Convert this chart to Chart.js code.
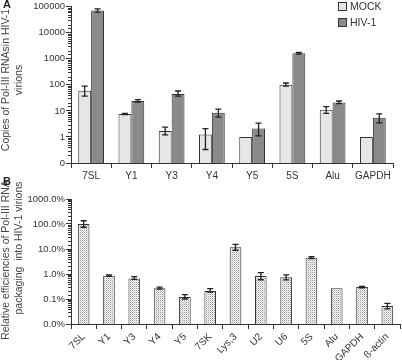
<!DOCTYPE html>
<html>
<head>
<meta charset="utf-8">
<script src="https://cdn.jsdelivr.net/npm/chart.js@4.4.1/dist/chart.umd.min.js"></script>
<style>
  body { margin: 0; background: #fff; width: 402px; height: 360px; overflow: hidden; position: relative;
         font-family: "Liberation Sans", Arial, sans-serif; color: #333; }
  .panel { position: absolute; left: 0; width: 402px; }
  #wrapA { top: 0; height: 183px; }
  #wrapB { top: 180px; height: 180px; }
  .tag { position: absolute; font-weight: bold; font-size: 11px; color: #222; }
  .leg { position: absolute; left: 338px; font-size: 10.5px; line-height: 12px; color: #333; }
  .leg i { display: inline-block; width: 7px; height: 7px; border: 1px solid #333; margin-right: 3px; vertical-align: -1px; }
</style>
</head>
<body>
<div class="panel" id="wrapA"><canvas id="chartA"></canvas></div>
<div class="panel" id="wrapB"><canvas id="chartB"></canvas></div>
<div class="tag" style="left:3px;top:-2px">A</div>
<div class="tag" style="left:3px;top:175px">B</div>
<div class="leg" style="top:0px"><i style="background:#e6e6e6"></i>MOCK</div>
<div class="leg" style="top:16px"><i style="background:#8a8a8a"></i>HIV-1</div>
<script>
// panel A: copies per virion
const categoriesA = ['7SL', 'Y1', 'Y3', 'Y4', 'Y5', '5S', 'Alu', 'GAPDH'];
const mockCopies = [60, 7.6, 1.7, 1.25, 1, 102, 11, 1];
const mockLow = [37, 7.2, 1.2, 0.33, 1, 89, 8.1, 1];
const mockHigh = [89, 8, 2.4, 2.1, 1, 118, 14.5, 1];
const hivCopies = [72000, 24, 45, 8.4, 2.1, 1650, 21, 5.5];
const hivLow = [62000, 22, 37, 5.8, 1.1, 1500, 19, 3.5];
const hivHigh = [83000, 27, 58, 11.8, 3.4, 1750, 24, 7.7];
const ticksA = [0.1, 1, 10, 100, 1000, 10000, 100000];

// panel B: relative packaging efficiency (%)
const categoriesB = ['7SL', 'Y1', 'Y3', 'Y4', 'Y5', '7SK', 'Lys,3', 'U2', 'U6', '5S', 'Alu', 'GAPDH', 'ß-actin'];
const efficiency = [100, 0.86, 0.66, 0.27, 0.12, 0.21, 11.7, 0.83, 0.74, 4.5, 0.27, 0.30, 0.052];
const effLow = [74, 0.8, 0.61, 0.25, 0.10, 0.19, 8.9, 0.59, 0.58, 4.1, 0.27, 0.28, 0.04];
const effHigh = [135, 0.92, 0.78, 0.30, 0.15, 0.26, 15.4, 1.13, 0.93, 4.9, 0.27, 0.32, 0.067];
const ticksB = [0.01, 0.1, 1, 10, 100, 1000];

const axisColor = '#333';
const textColor = '#333';
const tickFont = { family: '"Liberation Sans", Arial, sans-serif', size: 10 };
const yTickFont = { family: '"Liberation Sans", Arial, sans-serif', size: 9.5 };

const isMajor = (list, v) => list.some(t => Math.abs(t - v) / t < 1e-6);

// dotted fill for panel B bars
const dotCanvas = document.createElement('canvas');
dotCanvas.width = 2; dotCanvas.height = 2;
const dctx = dotCanvas.getContext('2d');
dctx.fillStyle = '#fafafa'; dctx.fillRect(0, 0, 2, 2);
dctx.fillStyle = '#9a9a9a'; dctx.fillRect(0, 0, 1, 1);
dctx.fillStyle = '#d0d0d0'; dctx.fillRect(1, 1, 1, 1);
const dots = dctx.createPattern(dotCanvas, 'repeat');

// error bars from low/high arrays on each dataset
const errorBars = {
    id: 'errorBars',
    afterDatasetsDraw(chart) {
        const ctx = chart.ctx;
        const y = chart.scales.y;
        chart.data.datasets.forEach((ds, di) => {
            if (!ds.low) return;
            chart.getDatasetMeta(di).data.forEach((bar, i) => {
                if (ds.low[i] === ds.high[i]) return;
                const top = y.getPixelForValue(ds.high[i]);
                const bot = y.getPixelForValue(ds.low[i]);
                ctx.save();
                ctx.strokeStyle = '#222';
                ctx.lineWidth = 1.3;
                ctx.beginPath();
                ctx.moveTo(bar.x, top); ctx.lineTo(bar.x, bot);
                ctx.moveTo(bar.x - 3, top); ctx.lineTo(bar.x + 3, top);
                ctx.moveTo(bar.x - 3, bot); ctx.lineTo(bar.x + 3, bot);
                ctx.stroke();
                ctx.restore();
            });
        });
    }
};

// short minor ticks on the log axis
const minorTicks = {
    id: 'minorTicks',
    afterDraw(chart, args, opts) {
        const y = chart.scales.y;
        const ctx = chart.ctx;
        ctx.save();
        ctx.strokeStyle = axisColor;
        ctx.lineWidth = 1;
        ctx.beginPath();
        y.ticks.forEach(t => {
            if (isMajor(opts.major, t.value)) return;
            const py = Math.round(y.getPixelForValue(t.value)) + 0.5;
            ctx.moveTo(y.right - 3, py); ctx.lineTo(y.right, py);
        });
        ctx.stroke();
        ctx.restore();
    }
};

// rotated y titles
const yTitle = {
    id: 'yTitle',
    afterDraw(chart, args, opts) {
        const ctx = chart.ctx;
        ctx.save();
        ctx.fillStyle = '#444';
        ctx.textAlign = 'center';
        ctx.textBaseline = 'middle';
        opts.lines.forEach(l => {
            ctx.save();
            ctx.font = (l.size || 10.5) + 'px "Liberation Sans", Arial, sans-serif';
            ctx.translate(l.x, l.y);
            ctx.rotate(-Math.PI / 2);
            ctx.fillText(l.text, 0, 0);
            ctx.restore();
        });
        ctx.restore();
    }
};

const xAxis = (h, rotate) => ({
    afterFit: s => { s.height = h; },
    border: { color: axisColor },
    grid: { drawOnChartArea: false, tickLength: 5, color: axisColor, offset: true },
    ticks: { font: tickFont, color: textColor, padding: 2, autoSkip: false,
             maxRotation: rotate, minRotation: rotate }
});

const yAxis = (min, max, major, label) => ({
    type: 'logarithmic', min, max,
    afterFit: s => { s.width = 71; },
    border: { color: axisColor },
    grid: { drawOnChartArea: false, tickLength: 5,
            tickColor: c => (c.tick && isMajor(major, c.tick.value)) ? axisColor : 'rgba(0,0,0,0)' },
    ticks: { font: yTickFont, color: textColor, padding: 1, autoSkip: false,
             callback: v => isMajor(major, v) ? label(v) : '' }
});

const overallA = new Chart(document.getElementById('chartA'), {
    type: 'bar',
    data: {
        labels: categoriesA,
        datasets: [{
            label: 'MOCK', data: mockCopies, low: mockLow, high: mockHigh,
            backgroundColor: '#e6e6e6', borderColor: '#333', borderWidth: 1,
            categoryPercentage: 0.64, barPercentage: 1
        }, {
            label: 'HIV-1', data: hivCopies, low: hivLow, high: hivHigh,
            backgroundColor: '#8a8a8a', borderColor: '#333', borderWidth: 1,
            categoryPercentage: 0.64, barPercentage: 1
        }]
    },
    options: {
        responsive: true, maintainAspectRatio: false, animation: false,
        layout: { padding: { top: 3, right: 9, left: 0, bottom: 0 } },
        scales: {
            x: xAxis(20, 0),
            y: yAxis(0.1, 100000, ticksA, v => v < 1 ? '0' : String(Math.round(v)))
        },
        plugins: {
            legend: { display: false }, tooltip: { enabled: false },
            minorTicks: { major: ticksA },
            yTitle: { lines: [
                { text: 'Copies of Pol-III RNAsin HIV-1', x: 6, y: 80 },
                { text: 'virions', x: 19, y: 80 }
            ] }
        }
    },
    plugins: [errorBars, minorTicks, yTitle]
});

const efficiencyB = new Chart(document.getElementById('chartB'), {
    type: 'bar',
    data: {
        labels: categoriesB,
        datasets: [{
            label: 'efficiency', data: efficiency, low: effLow, high: effHigh,
            backgroundColor: dots, borderColor: '#333', borderWidth: 1,
            categoryPercentage: 0.46, barPercentage: 1
        }]
    },
    options: {
        responsive: true, maintainAspectRatio: false, animation: false,
        layout: { padding: { top: 19, right: 2, left: 0, bottom: 0 } },
        scales: {
            x: xAxis(36, 45),
            y: yAxis(0.01, 1000, ticksB, v => v.toFixed(1) + '%')
        },
        plugins: {
            legend: { display: false }, tooltip: { enabled: false },
            minorTicks: { major: ticksB },
            yTitle: { lines: [
                { text: 'Relative efficiencies of Pol-III RNA', x: 6, y: 80 },
                { text: 'packaging  into HIV-1 virions', x: 19, y: 68 }
            ] }
        }
    },
    plugins: [errorBars, minorTicks, yTitle]
});
</script>
</body>
</html>
